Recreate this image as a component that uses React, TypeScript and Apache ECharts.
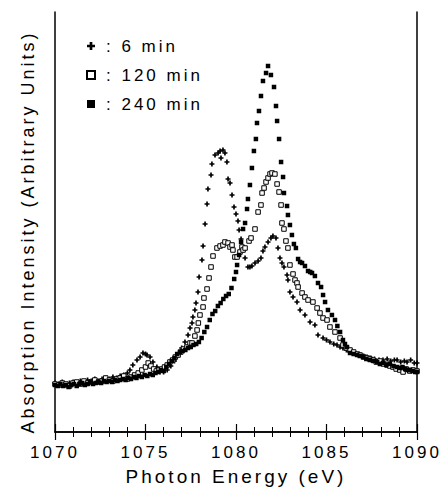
import React, { useEffect, useRef } from 'react';
import * as echarts from 'echarts';

const seriesNames = ['6 min', '120 min', '240 min'];
const xMin = 1070;
const xMax = 1090;
const xStep = 5;

// 6 min ("+")
const data6: number[][] = [
  [1070.0,49],[1070.2,48],[1070.4,50],[1070.6,47],[1070.8,49],[1071.0,50],[1071.2,48],[1071.4,51],[1071.6,50],[1071.8,52],
  [1072.0,51],[1072.2,53],[1072.4,51],[1072.6,53],[1072.8,54],[1073.0,53],[1073.2,55],[1073.4,54],[1073.6,56],[1073.8,57],
  [1074.0,59],[1074.14,62],[1074.3,67],[1074.53,72],[1074.7,75],[1074.86,79],[1075.0,78],[1075.08,77],[1075.25,75],[1075.41,70],
  [1075.63,65],[1075.8,60],[1076.0,60],[1076.2,62],[1076.4,66],[1076.6,71],[1076.8,77],[1077.0,84],[1077.18,90],[1077.35,97],
  [1077.46,104],[1077.57,109],[1077.62,115],[1077.73,122],[1077.79,129],[1077.9,140],[1077.96,155],[1078.12,172],[1078.18,186],[1078.29,208],
  [1078.4,228],[1078.45,243],[1078.62,257],[1078.67,268],[1078.84,277],[1079.01,279],[1079.12,281],[1079.17,274],[1079.28,282],[1079.39,279],
  [1079.5,270],[1079.56,253],[1079.67,249],[1079.78,237],[1079.89,225],[1080.0,218],[1080.11,211],[1080.17,202],[1080.28,193],[1080.39,182],
  [1080.5,174],[1080.66,165],[1080.77,165],[1080.88,166],[1081.05,169],[1081.22,171],[1081.38,174],[1081.49,181],[1081.6,185],[1081.77,190],
  [1081.93,194],[1082.04,196],[1082.21,194],[1082.32,184],[1082.43,174],[1082.54,169],[1082.65,165],[1082.82,157],[1082.87,152],[1082.98,140],
  [1083.15,135],[1083.37,130],[1083.54,122],[1083.81,117],[1084.09,110],[1084.36,107],[1084.53,97],[1084.81,94],[1085.0,92],[1085.19,90],
  [1085.4,88],[1085.58,87],[1085.75,85],[1085.91,84],[1086.1,82],[1086.3,80],[1086.46,79],[1086.65,78],[1086.85,77],[1087.05,76],
  [1087.24,75],[1087.45,74],[1087.65,73],[1087.9,72],[1088.12,72],[1088.35,73],[1088.55,71],[1088.75,72],[1088.9,72],[1089.1,70],
  [1089.3,71],[1089.45,70],[1089.65,72],[1089.85,69],[1090.0,69]
];

// 120 min (open squares)
const data120: number[][] = [
  [1070.0,48],[1070.2,47],[1070.4,49],[1070.6,48],[1070.8,46],[1071.0,49],[1071.2,50],[1071.4,48],[1071.6,51],[1071.8,49],
  [1072.0,50],[1072.2,52],[1072.4,50],[1072.6,51],[1072.8,54],[1073.0,52],[1073.2,51],[1073.4,53],[1073.6,54],[1073.8,56],
  [1074.0,53],[1074.2,55],[1074.4,57],[1074.6,59],[1074.8,62],[1075.0,65],[1075.15,69],[1075.3,66],[1075.45,63],[1075.6,61],
  [1075.75,62],[1075.9,63],[1076.05,65],[1076.2,67],[1076.35,70],[1076.5,72],[1076.65,75],[1076.8,77],[1076.95,80],[1077.1,83],
  [1077.29,85],[1077.46,89],[1077.57,89],[1077.73,96],[1077.85,102],[1077.92,109],[1078.01,117],[1078.18,125],[1078.23,134],[1078.4,143],
  [1078.51,154],[1078.62,165],[1078.73,176],[1078.95,184],[1079.12,186],[1079.28,187],[1079.39,190],[1079.56,189],[1079.67,185],[1079.78,187],
  [1079.83,182],[1079.94,175],[1080.06,175],[1080.22,180],[1080.33,185],[1080.39,182],[1080.5,184],[1080.72,191],[1080.83,194],[1081.05,203],
  [1081.22,220],[1081.38,227],[1081.44,239],[1081.55,244],[1081.66,250],[1081.77,254],[1081.88,258],[1081.99,259],[1082.15,258],[1082.27,248],
  [1082.38,240],[1082.49,227],[1082.54,209],[1082.65,203],[1082.76,191],[1082.87,184],[1082.98,167],[1083.15,158],[1083.26,152],[1083.37,149],
  [1083.43,145],[1083.65,139],[1083.81,135],[1083.98,132],[1084.25,130],[1084.48,124],[1084.64,119],[1084.81,114],[1085.03,112],[1085.19,105],
  [1085.47,100],[1085.75,94],[1085.91,87],[1086.1,84],[1086.3,82],[1086.5,80],[1086.7,78],[1086.85,77],[1087.05,75],[1087.25,74],
  [1087.4,73],[1087.57,72],[1087.75,70],[1087.95,71],[1088.15,68],[1088.35,67],[1088.5,66],[1088.67,65],[1088.85,63],[1089.05,62],
  [1089.23,60],[1089.4,63],[1089.6,61],[1089.78,62],[1090.0,61]
];

// 240 min (filled squares)
const data240: number[][] = [
  [1070.0,47],[1070.15,46],[1070.3,48],[1070.45,46],[1070.6,47],[1070.75,45],[1070.9,47],[1071.05,48],[1071.2,46],[1071.35,48],
  [1071.5,49],[1071.65,47],[1071.8,48],[1071.95,50],[1072.1,48],[1072.25,49],[1072.4,50],[1072.55,49],[1072.7,51],[1072.85,50],
  [1073.0,51],[1073.15,50],[1073.3,52],[1073.45,51],[1073.6,52],[1073.75,53],[1073.9,52],[1074.05,54],[1074.2,53],[1074.35,55],
  [1074.5,54],[1074.65,56],[1074.8,55],[1074.95,57],[1075.1,56],[1075.25,58],[1075.4,57],[1075.55,59],[1075.7,60],[1075.85,62],
  [1076.0,61],[1076.15,65],[1076.3,68],[1076.45,71],[1076.6,74],[1076.75,78],[1076.9,80],[1077.05,81],[1077.2,82],[1077.35,84],
  [1077.5,85],[1077.65,87],[1077.8,88],[1077.95,90],[1078.1,94],[1078.25,100],[1078.4,105],[1078.55,112],[1078.7,118],[1078.85,121],
  [1079.0,126],[1079.15,129],[1079.3,133],[1079.45,136],[1079.6,138],[1079.75,144],[1079.9,153],[1080.0,160],[1080.06,167],[1080.17,177],
  [1080.28,190],[1080.39,203],[1080.5,209],[1080.61,223],[1080.66,233],[1080.77,247],[1080.88,264],[1080.99,281],[1081.1,293],[1081.16,309],
  [1081.27,321],[1081.38,336],[1081.49,351],[1081.66,359],[1081.77,366],[1081.93,357],[1082.1,345],[1082.21,326],[1082.27,311],[1082.38,293],
  [1082.49,270],[1082.6,255],[1082.65,239],[1082.82,226],[1082.87,217],[1082.98,207],[1083.09,197],[1083.2,188],[1083.31,184],[1083.43,173],
  [1083.54,170],[1083.65,169],[1083.81,166],[1083.98,161],[1084.1,160],[1084.2,159],[1084.36,156],[1084.53,149],[1084.7,145],[1084.81,137],
  [1084.92,130],[1085.08,122],[1085.3,117],[1085.47,112],[1085.6,106],[1085.75,100],[1085.91,92],[1086.02,88],[1086.13,85],[1086.3,79],
  [1086.5,78],[1086.69,77],[1086.85,76],[1087.02,75],[1087.2,73],[1087.4,72],[1087.6,71],[1087.8,70],[1087.95,68],[1088.12,69],
  [1088.3,67],[1088.5,68],[1088.7,66],[1088.9,65],[1089.05,64],[1089.2,65],[1089.35,63],[1089.5,62],[1089.61,62],[1089.75,61],
  [1089.9,60],[1090.0,60]
];

const plusPath = 'path://M2,0H4V2H6V4H4V6H2V4H0V2H2Z';

export default function App() {
  const ref = useRef<HTMLDivElement>(null);
  useEffect(() => {
    if (!ref.current) return;
    const chart = echarts.init(ref.current, null, { renderer: 'svg' });
    const font = '"Liberation Sans", Arial, Helvetica, sans-serif';
    const axisLine = { show: true, lineStyle: { color: '#000', width: 1.5 } };
    const baseX = {
      type: 'value',
      min: xMin,
      max: xMax,
      interval: xStep,
      axisLine,
      axisTick: { show: true, inside: true, length: 8, lineStyle: { color: '#000', width: 1.2 } },
      minorTick: { show: true, splitNumber: 5, length: 5, lineStyle: { color: '#000', width: 1 } },
      splitLine: { show: false },
      minorSplitLine: { show: false },
    };
    chart.setOption({
      animation: false,
      backgroundColor: '#fff',
      textStyle: { fontFamily: font, color: '#000' },
      grid: { left: 55, right: 26, top: 12, bottom: 59 },
      legend: {
        orient: 'vertical',
        left: 81,
        top: 31,
        itemWidth: 8,
        itemHeight: 8,
        itemGap: 9,
        selectedMode: false,
        data: seriesNames,
        formatter: (name: string) => ': ' + name,
        textStyle: { fontSize: 17, color: '#000', lineHeight: 20, padding: [0, 0, 0, 6] },
      },
      xAxis: [
        {
          ...baseX,
          position: 'bottom',
          axisLabel: { show: true, fontSize: 17, color: '#000', margin: 12, formatter: (v: number) => String(v) },
          name: 'Photon Energy (eV)',
          nameLocation: 'middle',
          nameGap: 35,
          nameTextStyle: { fontSize: 19, color: '#000' },
        },
        {
          ...baseX,
          position: 'top',
          axisLabel: { show: false },
        },
      ],
      yAxis: [
        {
          type: 'value',
          min: 0,
          max: 420,
          position: 'left',
          axisLine,
          axisTick: { show: false },
          axisLabel: { show: false },
          splitLine: { show: false },
          name: 'Absorption Intensity (Arbitrary Units)',
          nameLocation: 'middle',
          nameRotate: 90,
          nameGap: 18,
          nameTextStyle: { fontSize: 18, color: '#000', padding: [0, 20, 0, 0] },
        },
        {
          type: 'value',
          min: 0,
          max: 420,
          position: 'right',
          axisLine,
          axisTick: { show: false },
          axisLabel: { show: false },
          splitLine: { show: false },
        },
      ],
      series: [
        {
          name: seriesNames[0],
          type: 'scatter',
          data: data6,
          symbol: plusPath,
          symbolSize: 5,
          itemStyle: { color: '#000', opacity: 1 },
        },
        {
          name: seriesNames[1],
          type: 'scatter',
          data: data120,
          symbol: 'rect',
          symbolSize: 4.5,
          itemStyle: { color: '#fff', borderColor: '#000', borderWidth: 1, opacity: 1 },
        },
        {
          name: seriesNames[2],
          type: 'scatter',
          data: data240,
          symbol: 'rect',
          symbolSize: 4.5,
          itemStyle: { color: '#000', opacity: 1 },
        },
      ],
    });
    return () => chart.dispose();
  }, []);
  return (
    <>
      <style>{`#chart svg text { letter-spacing: 3px; }`}</style>
      <div
        id="chart"
        ref={ref}
        style={{ position: 'fixed', left: 0, top: 0, width: 443, height: 491 }}
      />
    </>
  );
}
